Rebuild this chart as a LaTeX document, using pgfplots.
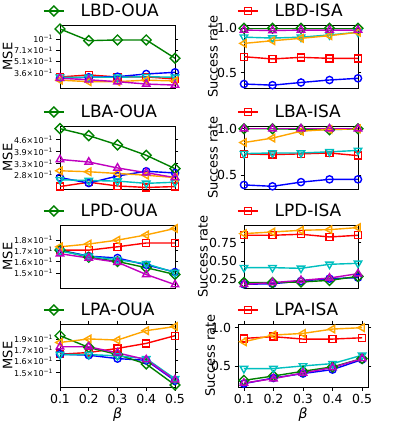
\documentclass[border=0pt]{standalone}
\usepackage{fontspec}
\setmainfont{DejaVu Sans}
\usepackage{pgfplots}
\pgfplotsset{compat=1.18}

\definecolor{cR}{HTML}{FF0000}
\definecolor{cB}{HTML}{0000FF}
\definecolor{cG}{HTML}{008000}
\definecolor{cC}{HTML}{00BFBF}
\definecolor{cO}{HTML}{FFA500}
\definecolor{cM}{HTML}{BF00BF}

\newcommand{\sci}[1]{#1×10\textsuperscript{−1}}

\pgfplotsset{
  panelbase/.style={
    scale only axis, anchor=north west, height=63pt,
    xmin=0.1, xmax=0.5, xtick=\empty,
    axis line style={line width=0.8pt},
    every tick/.style={black, line width=0.8pt},
    tick align=outside, major tick length=3.5pt,
    yminorticks=false, xminorticks=false,
    legend style={draw=none, fill=none, anchor=west,
      at={(axis description cs:0,1)}, yshift=14pt, inner sep=0pt,
      font=\fontsize{17}{17}\selectfont, nodes={inner sep=0pt}},
    legend image code/.code={
      \draw[mark repeat=2,mark phase=2,##1] plot coordinates {(0pt,0pt) (10pt,0pt) (20pt,0pt)};},
    ylabel style={font=\fontsize{13}{13}\selectfont, anchor=center},
  },
  msepanel/.style={panelbase, width=115pt, ylabel={MSE},
    ylabel style={at={(axis description cs:-0.455,0.5)}},
    yticklabel style={font=\fontsize{8}{8}\selectfont},
    legend style={xshift=-17pt}},
  sucpanel/.style={panelbase, width=114pt, ylabel={Success rate},
    ylabel style={at={(axis description cs:-0.272,0.5)}},
    yticklabel style={font=\fontsize{12.5}{12.5}\selectfont},
    legend style={xshift=-7pt}},
  bottomrow/.style={xtick={0.1,0.2,0.3,0.4,0.5}, xticklabels={0.1,0.2,0.3,0.4,0.5},
    xticklabel style={font=\fontsize{12.5}{12.5}\selectfont},
    xlabel={\itshape β},
    xlabel style={font=\fontsize{14}{14}\selectfont,
      at={(axis description cs:0.5,-0.444)}, anchor=center}},
  pR/.style={cR, line width=1.4pt, mark=square, mark size=3.5pt},
  pB/.style={cB, line width=1.4pt, mark=o, mark size=3.6pt},
  pG/.style={cG, line width=1.4pt, mark=square, mark size=3.5pt, mark options={rotate=45}},
  pC/.style={cC, line width=1.4pt, mark=triangle, mark size=4.3pt, mark options={rotate=180}},
  pO/.style={cO, line width=1.4pt, mark=triangle, mark size=4.3pt, mark options={rotate=90}},
  pM/.style={cM, line width=1.4pt, mark=triangle, mark size=4.3pt},
}

\begin{document}
\begin{tikzpicture}
\path[use as bounding box] (0pt,0pt) rectangle (399pt,-426pt);

% ---------- row 1 ----------
\begin{axis}[msepanel, ymode=log, at={(60pt,-25pt)}, ymin=0.229, ymax=1.52,
  ytick={0.36,0.51,0.71,1.0},
  yticklabels={\sci{3.6},\sci{5.1},\sci{7.1},10\textsuperscript{−1}}]
\addplot[pR, forget plot] coordinates {(0.1,0.319) (0.2,0.339) (0.3,0.319) (0.4,0.32) (0.5,0.30)};
\addplot[pB, forget plot] coordinates {(0.1,0.307) (0.2,0.316) (0.3,0.322) (0.4,0.349) (0.5,0.367)};
\addplot[pG] coordinates {(0.1,1.35) (0.2,0.95) (0.3,0.97) (0.4,0.97) (0.5,0.56)};
\addlegendentry{\hspace*{16pt}LBD-OUA}
\addplot[pC, forget plot] coordinates {(0.1,0.316) (0.2,0.316) (0.3,0.316) (0.4,0.322) (0.5,0.316)};
\addplot[pO, forget plot] coordinates {(0.1,0.29) (0.2,0.277) (0.3,0.277) (0.4,0.29) (0.5,0.283)};
\addplot[pM, forget plot] coordinates {(0.1,0.307) (0.2,0.293) (0.3,0.277) (0.4,0.258) (0.5,0.250)};
\end{axis}

\begin{axis}[sucpanel, at={(244pt,-25pt)}, ymin=0.328, ymax=1.037,
  ytick={0.5,1.0}, yticklabels={0.5,1.0}]
\addplot[pR] coordinates {(0.1,0.68) (0.2,0.655) (0.3,0.673) (0.4,0.662) (0.5,0.662)};
\addlegendentry{\hspace*{16pt}LBD-ISA}
\addplot[pB, forget plot] coordinates {(0.1,0.373) (0.2,0.36) (0.3,0.39) (0.4,0.418) (0.5,0.437)};
\addplot[pG, forget plot] coordinates {(0.1,1.0) (0.2,1.0) (0.3,1.0) (0.4,1.0) (0.5,1.0)};
\addplot[pC, forget plot] coordinates {(0.1,0.90) (0.2,0.89) (0.3,0.90) (0.4,0.925) (0.5,0.955)};
\addplot[pO, forget plot] coordinates {(0.1,0.83) (0.2,0.86) (0.3,0.887) (0.4,0.917) (0.5,0.955)};
\addplot[pM, forget plot] coordinates {(0.1,0.98) (0.2,0.975) (0.3,0.98) (0.4,0.98) (0.5,0.98)};
\end{axis}

% ---------- row 2 ----------
\begin{axis}[msepanel, ymode=log, at={(60pt,-126pt)}, ymin=0.231, ymax=0.557,
  ytick={0.28,0.33,0.39,0.46},
  yticklabels={\sci{2.8},\sci{3.3},\sci{3.9},\sci{4.6}}]
\addplot[pR, forget plot] coordinates {(0.1,0.239) (0.2,0.254) (0.3,0.241) (0.4,0.236) (0.5,0.239)};
\addplot[pB, forget plot] coordinates {(0.1,0.271) (0.2,0.251) (0.3,0.277) (0.4,0.296) (0.5,0.289)};
\addplot[pG] coordinates {(0.1,0.537) (0.2,0.487) (0.3,0.428) (0.4,0.370) (0.5,0.307)};
\addlegendentry{\hspace*{16pt}LBA-OUA}
\addplot[pC, forget plot] coordinates {(0.1,0.263) (0.2,0.260) (0.3,0.258) (0.4,0.250) (0.5,0.254)};
\addplot[pO, forget plot] coordinates {(0.1,0.298) (0.2,0.294) (0.3,0.287) (0.4,0.28) (0.5,0.271)};
\addplot[pM, forget plot] coordinates {(0.1,0.349) (0.2,0.337) (0.3,0.310) (0.4,0.290) (0.5,0.271)};
\end{axis}

\begin{axis}[sucpanel, at={(244pt,-126pt)}, ymin=0.352, ymax=1.03,
  ytick={0.5,1.0}, yticklabels={0.5,1.0}]
\addplot[pR] coordinates {(0.1,0.73) (0.2,0.722) (0.3,0.73) (0.4,0.74) (0.5,0.711)};
\addlegendentry{\hspace*{16pt}LBA-ISA}
\addplot[pB, forget plot] coordinates {(0.1,0.396) (0.2,0.381) (0.3,0.426) (0.4,0.456) (0.5,0.456)};
\addplot[pG, forget plot] coordinates {(0.1,1.0) (0.2,1.0) (0.3,0.995) (0.4,0.99) (0.5,1.0)};
\addplot[pC, forget plot] coordinates {(0.1,0.733) (0.2,0.74) (0.3,0.74) (0.4,0.752) (0.5,0.767)};
\addplot[pO, forget plot] coordinates {(0.1,0.852) (0.2,0.9) (0.3,0.974) (0.4,0.993) (0.5,1.0)};
\addplot[pM, forget plot] coordinates {(0.1,1.0) (0.2,1.0) (0.3,1.0) (0.4,1.0) (0.5,1.0)};
\end{axis}

% ---------- row 3 ----------
\begin{axis}[msepanel, ymode=log, at={(60pt,-225pt)}, ymin=0.1382, ymax=0.1957,
  ytick={0.15,0.16,0.17,0.18},
  yticklabels={\sci{1.5},\sci{1.6},\sci{1.7},\sci{1.8}}]
\addplot[pR, forget plot] coordinates {(0.1,0.1703) (0.2,0.1703) (0.3,0.1735) (0.4,0.1772) (0.5,0.1772)};
\addplot[pB, forget plot] coordinates {(0.1,0.1703) (0.2,0.1648) (0.3,0.1631) (0.4,0.1570) (0.5,0.1509)};
\addplot[pG] coordinates {(0.1,0.1703) (0.2,0.1638) (0.3,0.1600) (0.4,0.1546) (0.5,0.1489)};
\addlegendentry{\hspace*{16pt}LPD-OUA}
\addplot[pC, forget plot] coordinates {(0.1,0.1694) (0.2,0.1646) (0.3,0.1616) (0.4,0.1580) (0.5,0.1505)};
\addplot[pO, forget plot] coordinates {(0.1,0.1735) (0.2,0.1762) (0.3,0.18) (0.4,0.1853) (0.5,0.192)};
\addplot[pM, forget plot] coordinates {(0.1,0.1670) (0.2,0.1631) (0.3,0.1593) (0.4,0.1489) (0.5,0.1408)};
\end{axis}

\begin{axis}[sucpanel, at={(244pt,-225pt)}, ymin=0.132, ymax=0.99,
  ytick={0.25,0.5,0.75}, yticklabels={0.25,0.50,0.75},
  ylabel style={at={(axis description cs:-0.36,0.5)}}]
\addplot[pR] coordinates {(0.1,0.85) (0.2,0.85) (0.3,0.864) (0.4,0.827) (0.5,0.85)};
\addlegendentry{\hspace*{16pt}LPD-ISA}
\addplot[pB, forget plot] coordinates {(0.1,0.182) (0.2,0.19) (0.3,0.227) (0.4,0.259) (0.5,0.273)};
\addplot[pG, forget plot] coordinates {(0.1,0.205) (0.2,0.205) (0.3,0.214) (0.4,0.236) (0.5,0.29)};
\addplot[pC, forget plot] coordinates {(0.1,0.409) (0.2,0.409) (0.3,0.40) (0.4,0.455) (0.5,0.468)};
\addplot[pO, forget plot] coordinates {(0.1,0.873) (0.2,0.895) (0.3,0.918) (0.4,0.927) (0.5,0.955)};
\addplot[pM, forget plot] coordinates {(0.1,0.182) (0.2,0.205) (0.3,0.236) (0.4,0.268) (0.5,0.327)};
\end{axis}

% ---------- row 4 ----------
\begin{axis}[msepanel, bottomrow, ymode=log, at={(60pt,-324pt)}, ymin=0.1387, ymax=0.1952,
  ytick={0.15,0.16,0.17,0.18},
  yticklabels={\sci{1.5},\sci{1.6},\sci{1.7},\sci{1.9}}]
\addplot[pR, forget plot] coordinates {(0.1,0.1657) (0.2,0.1672) (0.3,0.171) (0.4,0.1757) (0.5,0.1832)};
\addplot[pB, forget plot] coordinates {(0.1,0.1657) (0.2,0.1648) (0.3,0.1618) (0.4,0.1603) (0.5,0.1435)};
\addplot[pG] coordinates {(0.1,0.1832) (0.2,0.1719) (0.3,0.1654) (0.4,0.1571) (0.5,0.1402)};
\addlegendentry{\hspace*{16pt}LPA-OUA}
\addplot[pC, forget plot] coordinates {(0.1,0.1654) (0.2,0.1654) (0.3,0.1642) (0.4,0.1618) (0.5,0.145)};
\addplot[pO, forget plot] coordinates {(0.1,0.1766) (0.2,0.18) (0.3,0.1789) (0.4,0.1883) (0.5,0.1925)};
\addplot[pM, forget plot] coordinates {(0.1,0.1725) (0.2,0.1725) (0.3,0.1669) (0.4,0.1609) (0.5,0.1442)};
\end{axis}

\begin{axis}[sucpanel, bottomrow, at={(238pt,-324pt)}, width=130pt, xmin=0.08, xmax=0.52,
  ymin=0.224, ymax=1.048,
  ytick={0.5,1.0}, yticklabels={0.5,1.0},
  ylabel style={at={(axis description cs:-0.215,0.5)}},
  legend style={xshift=6pt}]
\addplot[pR] coordinates {(0.1,0.86) (0.2,0.882) (0.3,0.851) (0.4,0.851) (0.5,0.868)};
\addlegendentry{\hspace*{16pt}LPA-ISA}
\addplot[pB, forget plot] coordinates {(0.1,0.268) (0.2,0.342) (0.3,0.40) (0.4,0.452) (0.5,0.583)};
\addplot[pG, forget plot] coordinates {(0.1,0.311) (0.2,0.368) (0.3,0.43) (0.4,0.487) (0.5,0.596)};
\addplot[pC, forget plot] coordinates {(0.1,0.465) (0.2,0.465) (0.3,0.50) (0.4,0.53) (0.5,0.64)};
\addplot[pO, forget plot] coordinates {(0.1,0.816) (0.2,0.904) (0.3,0.925) (0.4,0.982) (0.5,1.0)};
\addplot[pM, forget plot] coordinates {(0.1,0.276) (0.2,0.333) (0.3,0.408) (0.4,0.478) (0.5,0.596)};
\end{axis}
\end{tikzpicture}
\end{document}
